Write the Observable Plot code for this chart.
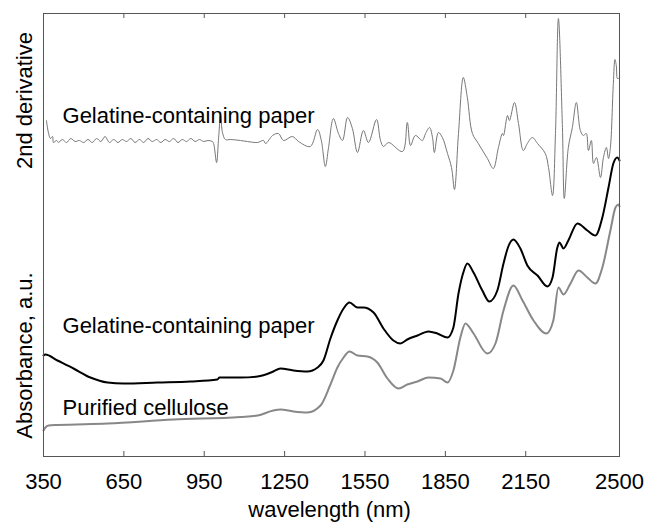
<!DOCTYPE html>
<html>
<head>
<meta charset="utf-8">
<script src="https://cdn.jsdelivr.net/npm/d3@7"></script>
<script src="https://cdn.jsdelivr.net/npm/@observablehq/plot@0.6"></script>
<style>
  html, body { margin: 0; padding: 0; background: #fff; }
  #chart svg { display: block; }
</style>
</head>
<body>
<div id="chart"></div>
<script>
// ---- data (wavelength in nm, signal in arbitrary units) ----
const derivWl = [361,369,376,384,387,399,406,420,436,452,468,484,500,516,532,548,564,580,596,612,628,644,660,676,692,708,724,740,756,772,788,804,820,836,852,868,884,900,916,932,948,964,980,985,996,1003,1011,1018,1029,1048,1085,1111,1149,1171,1179,1205,1227,1246,1279,1302,1346,1373,1387,1402,1414,1432,1451,1466,1485,1503,1522,1544,1563,1593,1608,1619,1638,1690,1708,1720,1738,1764,1776,1791,1802,1809,1824,1839,1858,1873,1884,1899,1917,1932,1951,1973,2007,2029,2048,2063,2067,2082,2089,2108,2123,2141,2156,2175,2194,2223,2235,2250,2261,2272,2287,2294,2309,2324,2339,2354,2365,2376,2384,2395,2403,2414,2429,2440,2451,2459,2466,2477,2483,2488,2492,2496];
const derivVal = [33.6,32.3,31.8,32.0,31.4,31.6,31.4,31.7,31.4,31.8,31.5,31.6,31.4,31.7,31.4,31.8,31.5,32.0,31.4,31.7,31.4,31.7,31.5,31.8,31.4,31.7,31.4,31.8,31.5,31.7,31.4,31.7,31.5,31.8,31.4,31.7,31.5,31.8,31.5,31.7,31.5,31.6,31.5,31.3,29.4,31.6,34.1,32.4,31.7,31.7,31.6,31.5,31.4,31.6,31.3,32.1,32.3,31.6,32.0,31.5,31.0,32.7,31.6,29.0,30.9,33.8,32.3,31.6,33.9,32.8,30.4,32.6,31.4,33.7,31.6,31.0,31.4,30.5,33.4,31.1,32.1,31.6,32.3,32.9,31.9,30.4,32.4,31.9,30.3,28.9,26.7,32.3,37.9,35.9,32.3,31.3,29.8,28.8,30.9,32.3,32.1,34.1,33.6,35.4,33.3,30.6,31.3,31.9,31.3,30.3,28.9,26.1,32.3,43.8,32.9,25.8,30.9,32.9,35.4,32.6,32.1,32.3,30.6,31.6,29.3,29.9,27.9,29.9,30.9,29.8,30.9,37.3,39.7,39.1,37.8,37.8];

const gelWl = [350,357,402,462,525,589,649,775,899,999,1007,1085,1149,1208,1234,1283,1335,1373,1395,1421,1447,1470,1492,1522,1544,1582,1619,1656,1682,1708,1746,1787,1820,1858,1880,1899,1917,1932,1955,1988,2014,2044,2067,2085,2104,2130,2156,2194,2231,2250,2268,2276,2291,2309,2343,2380,2410,2436,2459,2477,2492,2500];
const gelVal = [10.1,10.2,9.6,8.8,7.9,7.4,7.3,7.4,7.5,7.7,7.9,7.9,8.0,8.5,8.8,8.6,8.5,8.9,9.6,11.8,13.6,14.8,15.4,14.9,14.9,14.4,12.8,11.6,11.3,11.7,12.1,12.5,12.3,11.9,12.9,16.3,18.4,19.3,18.4,16.6,15.5,16.6,19.3,21.0,21.7,20.8,19.1,18.1,17.0,17.9,20.9,21.4,20.8,21.6,23.3,22.6,22.1,23.9,26.9,29.3,29.9,29.6];

const celWl = [350,357,369,402,589,835,1085,1149,1208,1234,1283,1335,1384,1421,1447,1470,1492,1522,1559,1596,1634,1675,1708,1746,1787,1832,1858,1880,1906,1925,1955,2007,2037,2067,2104,2138,2179,2227,2253,2272,2291,2317,2347,2380,2410,2436,2466,2485,2496,2500];
const celVal = [2.6,2.9,3.1,3.15,3.3,3.7,3.95,4.1,4.6,4.7,4.5,4.4,5.1,7.2,8.9,9.9,10.5,10.1,10.0,9.4,7.8,6.8,7.2,7.5,7.9,7.8,7.4,8.6,11.9,13.3,12.3,10.3,11.3,14.6,17.1,15.6,13.6,12.3,13.6,16.9,16.2,17.3,18.6,17.9,17.3,18.9,22.6,24.9,25.2,25.0];

const tickValues = [350, 650, 950, 1250, 1550, 1850, 2150, 2500];
const innerTicks = [650, 950, 1250, 1550, 1850, 2150];

const curveLabels = ["Gelatine-containing paper", "Gelatine-containing paper", "Purified cellulose"];
const curveLabelWl = [421, 421, 421];
const curveLabelVal = [34.1, 13.1, 4.9];

const yAxisLabels = ["2nd derivative", "Absorbance, a.u."];
const yAxisLabelVal = [35.6, 10.1];
const xAxisLabel = "wavelength (nm)";
const xAxisLabelWl = 1418;

// ---- tables built from the arrays ----
const deriv = derivWl.map((w, i) => ({w, v: derivVal[i]}));
const gel = gelWl.map((w, i) => ({w, v: gelVal[i]}));
const cel = celWl.map((w, i) => ({w, v: celVal[i]}));
const annos = curveLabels.map((t, i) => ({t, w: curveLabelWl[i], v: curveLabelVal[i]}));
const yLabs = yAxisLabels.map((t, i) => ({t, v: yAxisLabelVal[i]}));

const font = "'Liberation Sans', Arial, Helvetica, sans-serif";
const frameColor = "#555";

const chart = Plot.plot({
  width: 647,
  height: 522,
  marginLeft: 43,
  marginRight: 28,
  marginTop: 13,
  marginBottom: 66,
  style: {fontFamily: font, background: "#fff", color: "#000"},
  x: {domain: [350, 2500]},
  y: {domain: [0, 44.3], axis: null},
  marks: [
    Plot.line(deriv, {x: "w", y: "v", stroke: "#777", strokeWidth: 1, curve: "catmull-rom"}),
    Plot.line(cel, {x: "w", y: "v", stroke: "#888", strokeWidth: 2, curve: "monotone-x"}),
    Plot.line(gel, {x: "w", y: "v", stroke: "#000", strokeWidth: 2, curve: "monotone-x"}),
    Plot.frame({stroke: frameColor, strokeWidth: 1}),
    Plot.gridX(innerTicks, {insetTop: 438, stroke: frameColor, strokeOpacity: 1}),
    Plot.gridX(innerTicks, {insetBottom: 438, stroke: frameColor, strokeOpacity: 1}),
    Plot.axisX(tickValues, {anchor: "bottom", tickSize: 0, tickPadding: 17, fontSize: 22, label: null, fill: "#000", tickFormat: d => String(d)}),
    Plot.text(annos, {x: "w", y: "v", text: "t", textAnchor: "start", lineAnchor: "middle", fontSize: 22, fill: "#000"}),
    Plot.text(yLabs, {y: "v", text: "t", frameAnchor: "left", textAnchor: "middle", lineAnchor: "middle", rotate: -90, dx: -19, fontSize: 22, fill: "#000"}),
    Plot.text([xAxisLabel], {x: () => xAxisLabelWl, text: d => d, frameAnchor: "bottom", textAnchor: "middle", lineAnchor: "middle", dy: 53, fontSize: 22, fill: "#000"})
  ]
});
document.getElementById("chart").append(chart);
</script>
</body>
</html>
